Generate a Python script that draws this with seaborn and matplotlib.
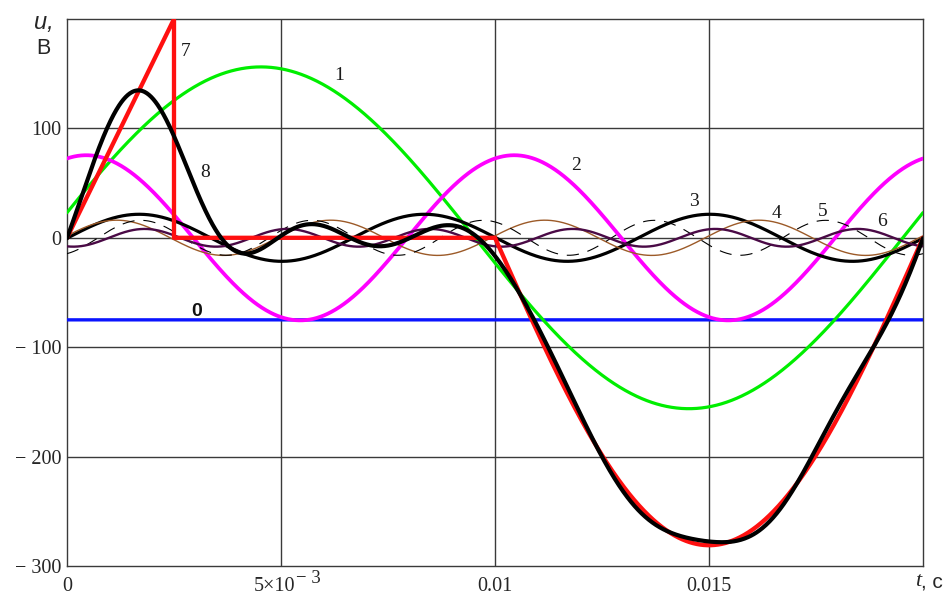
# Fourier decomposition of a periodic voltage: harmonics 0..6, source signal (7) and their sum (8)
import numpy as np
import matplotlib
matplotlib.use("Agg")
import matplotlib.pyplot as plt
import seaborn as sns

# --- data ---
period = 0.02                      # s, one full period on the x axis
dc_level = -75.0                   # curve 0, constant component, V
harmonic_no = [1, 2, 3, 4, 5, 6]   # curves 1..6
cos_coef = [23.0, 72.5, -0.4, 1.8, -14.5, -7.8]   # V
sin_coef = [154.5, 21.0, 21.5, 16.0, 6.7, -2.2]   # V

# curve 7: ramp, drop, zero pause, negative half wave
ramp_t = [0.0, 0.0025, 0.0025, 0.01]
ramp_u = [0.0, 200.0, 0.0, 0.0]
halfwave_start, halfwave_end = 0.01, 0.02
halfwave_amp = 281.0

curve_names = ["0", "1", "2", "3", "4", "5", "6", "7", "8"]
label_t = [0.00302, 0.00637, 0.0119, 0.01465, 0.01657, 0.01765, 0.01905, 0.00278, 0.00323]
label_u = [-67, 148, 66, 33, 22, 24, 15, 170, 60]

xtick_vals = [0, 0.005, 0.01, 0.015, 0.02]
xtick_text = ["0", "", "0.01", "0.015", ""]
ytick_vals = [-300, -200, -100, 0, 100, 200]
ytick_text = ["\u2212 300", "\u2212 200", "\u2212 100", "0", "100", ""]

sns.set_style("white")
plt.rcParams["font.family"] = ["Liberation Serif", "DejaVu Serif"]

t = np.linspace(0, period, 1200)
w = 2 * np.pi / period
harm = [a * np.cos(k * w * t) + b * np.sin(k * w * t)
        for k, a, b in zip(harmonic_no, cos_coef, sin_coef)]
dc = np.full_like(t, dc_level)
total = dc + np.sum(harm, axis=0)

tw = t[t >= halfwave_start]
sig_t = np.concatenate([ramp_t, tw])
sig_u = np.concatenate([ramp_u, halfwave_amp * np.sin(w * tw)])

W, H = 943, 596
fig = plt.figure(figsize=(W / 100, H / 100), dpi=100)
ax = fig.add_axes([67 / W, 1 - 566 / H, 856 / W, 547 / H])

grid_c = "#3a3a3a"
for v in xtick_vals[1:-1]:
    ax.axvline(v, color=grid_c, lw=1.0, zorder=1)
for v in ytick_vals[1:-1]:
    ax.axhline(v, color=grid_c, lw=1.0, zorder=1)

styles = [  # (series, colour, width, linestyle)
    (dc, "#0a14ff", 2.4, "-"),
    (harm[0], "#00ee00", 2.3, "-"),
    (harm[1], "#ff00ff", 2.7, "-"),
    (harm[2], "black", 2.3, "-"),
    (harm[3], "#9c5a28", 1.0, "-"),
    (harm[4], "black", 0.8, (0, (11, 8))),
    (harm[5], "#4a0a46", 1.7, "-"),
]
for y, c, lw, ls in styles:
    sns.lineplot(x=t, y=y, color=c, lw=lw, linestyle=ls, ax=ax, zorder=3)

sns.lineplot(x=sig_t, y=sig_u, color="#ff1010", lw=3.1, ax=ax,
             estimator=None, sort=False, zorder=4)
sns.lineplot(x=t, y=total, color="black", lw=3.0, ax=ax, zorder=5)

for name, lt, lu in zip(curve_names, label_t, label_u):
    if name == "0":
        ax.text(lt, lu, name, fontsize=14, fontweight="bold", family="Liberation Sans",
                color="#111111", ha="center", va="center", zorder=6)
    else:
        ax.text(lt, lu, name, fontsize=14, color="#1a1a1a", ha="center",
                va="center", zorder=6)

ax.set_xlim(0, period)
ax.set_ylim(-300, 200)
ax.set_xticks(xtick_vals)
ax.set_xticklabels(xtick_text, fontsize=14.5)
ax.set_yticks(ytick_vals)
ax.set_yticklabels(ytick_text, fontsize=14.5)
ax.tick_params(axis="both", length=0)
ax.tick_params(axis="x", pad=8)
ax.tick_params(axis="y", pad=4)
for s in ax.spines.values():
    s.set_color(grid_c)
    s.set_linewidth(1.0)
    s.set_visible(True)
ax.set_xlabel("")
ax.set_ylabel("")

# 5x10^-3 label with a full-size raised exponent, as in the reference
fig.text(295 / W, 1 - 591 / H, "5×10", fontsize=14.5, ha="right", va="baseline")
fig.text(296 / W, 1 - 583 / H, "\u2212 3", fontsize=13.5, ha="left", va="baseline")

fig.text(44 / W, 1 - 22 / H, "u,", fontsize=17, style="italic", ha="center", va="center",
         family="Liberation Sans")
fig.text(43 / W, 1 - 48 / H, "B", fontsize=15.5, ha="center", va="center",
         family="Liberation Sans")
fig.text(918 / W, 1 - 581 / H, "t", fontsize=16, style="italic", ha="center", va="center")
fig.text(932 / W, 1 - 582 / H, ", c", fontsize=15, ha="center", va="center",
         family="Liberation Sans")

fig.savefig("out.png", dpi=100)
